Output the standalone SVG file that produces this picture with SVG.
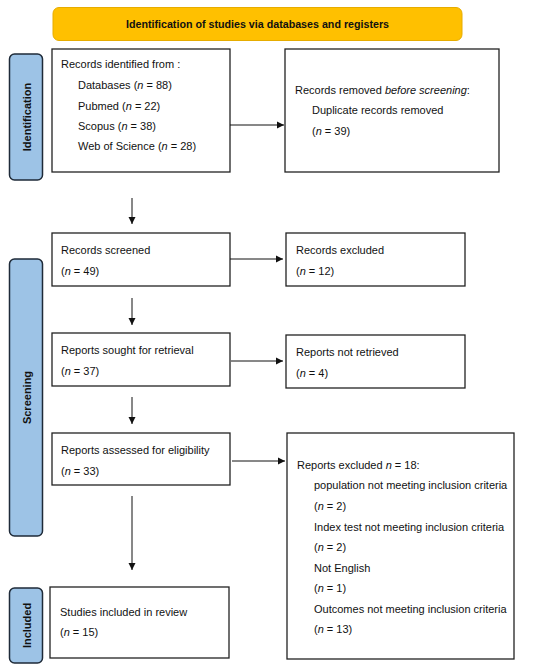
<svg xmlns="http://www.w3.org/2000/svg" width="550" height="670" viewBox="0 0 550 670">
<style>
.box{fill:#fff;stroke:#222;stroke-width:1.3}
.side{fill:#9DC3E6;stroke:#1E2A38;stroke-width:1.5}
.t{font-family:"Liberation Sans",Arial,sans-serif;font-size:11px;fill:#111}
.b{font-family:"Liberation Sans",Arial,sans-serif;font-size:11px;font-weight:bold;fill:#111}
.i{font-style:italic}
.c{stroke:#111;stroke-width:1;fill:none;marker-end:url(#ah)}
</style>
<defs>
<marker id="ah" markerWidth="8" markerHeight="8" refX="7" refY="4" orient="auto" markerUnits="userSpaceOnUse">
<path d="M0,0.5 L7,4 L0,7.5 z" fill="#111"/>
</marker>
</defs>
<rect width="550" height="670" fill="#fff"/>
<g id="banner">
<rect x="53" y="7.5" width="409" height="33" rx="6" fill="#FFC000" stroke="#E6AC00" stroke-width="1"/>
<text class="b" x="257.5" y="28" text-anchor="middle" style="font-size:10.7px">Identification of studies via databases and registers</text>
</g>
<g id="label-identification">
<rect class="side" x="9.5" y="54" width="33" height="126" rx="5"/>
<text class="b" transform="translate(30.5,117) rotate(-90)" text-anchor="middle">Identification</text>
</g>
<g id="label-screening">
<rect class="side" x="9.5" y="259" width="33" height="277" rx="5"/>
<text class="b" transform="translate(30.5,397.5) rotate(-90)" text-anchor="middle">Screening</text>
</g>
<g id="label-included">
<rect class="side" x="9.5" y="588" width="33" height="75" rx="5"/>
<text class="b" transform="translate(30.5,625.5) rotate(-90)" text-anchor="middle">Included</text>
</g>
<g id="records-identified">
<rect class="box" x="52" y="49" width="178" height="123"/>
<text class="t" x="61" y="68">Records identified from :</text>
<text class="t" x="78" y="89">Databases (<tspan class="i">n</tspan> = 88)</text>
<text class="t" x="78" y="110">Pubmed (<tspan class="i">n</tspan> = 22)</text>
<text class="t" x="78" y="130">Scopus (<tspan class="i">n</tspan> = 38)</text>
<text class="t" x="78" y="150">Web of Science (<tspan class="i">n</tspan> = 28)</text>
</g>
<g id="records-removed">
<rect class="box" x="285" y="49" width="214" height="123"/>
<text class="t" x="295" y="94">Records removed <tspan class="i">before screening</tspan>:</text>
<text class="t" x="312" y="114">Duplicate records removed</text>
<text class="t" x="312" y="135">(<tspan class="i">n</tspan> = 39)</text>
</g>
<g id="records-screened">
<rect class="box" x="52" y="233" width="178" height="53"/>
<text class="t" x="61" y="254">Records screened</text>
<text class="t" x="61" y="275">(<tspan class="i">n</tspan> = 49)</text>
</g>
<g id="records-excluded">
<rect class="box" x="286" y="233" width="179" height="53"/>
<text class="t" x="296" y="254">Records excluded</text>
<text class="t" x="296" y="275">(<tspan class="i">n</tspan> = 12)</text>
</g>
<g id="reports-sought">
<rect class="box" x="52" y="333" width="178" height="53"/>
<text class="t" x="61" y="354">Reports sought for retrieval</text>
<text class="t" x="61" y="375">(<tspan class="i">n</tspan> = 37)</text>
</g>
<g id="reports-not-retrieved">
<rect class="box" x="286" y="335" width="179" height="53"/>
<text class="t" x="296" y="356">Reports not retrieved</text>
<text class="t" x="296" y="377">(<tspan class="i">n</tspan> = 4)</text>
</g>
<g id="reports-assessed">
<rect class="box" x="52" y="433" width="178" height="52"/>
<text class="t" x="61" y="454">Reports assessed for eligibility</text>
<text class="t" x="61" y="475">(<tspan class="i">n</tspan> = 33)</text>
</g>
<g id="reports-excluded">
<rect class="box" x="287" y="433" width="227" height="226"/>
<text class="t" x="297" y="469">Reports excluded <tspan class="i">n</tspan> = 18:</text>
<text class="t" x="314" y="489">population not meeting inclusion criteria</text>
<text class="t" x="314" y="510">(<tspan class="i">n</tspan> = 2)</text>
<text class="t" x="314" y="531">Index test not meeting inclusion criteria</text>
<text class="t" x="314" y="551">(<tspan class="i">n</tspan> = 2)</text>
<text class="t" x="314" y="572">Not English</text>
<text class="t" x="314" y="592">(<tspan class="i">n</tspan> = 1)</text>
<text class="t" x="314" y="613">Outcomes not meeting inclusion criteria</text>
<text class="t" x="314" y="633">(<tspan class="i">n</tspan> = 13)</text>
</g>
<g id="studies-included">
<rect class="box" x="50" y="587" width="179" height="71"/>
<text class="t" x="60" y="616">Studies included in review</text>
<text class="t" x="60" y="636">(<tspan class="i">n</tspan> = 15)</text>
</g>
<g id="connectors">
<line class="c" x1="230" y1="125" x2="284" y2="125"/>
<line class="c" x1="132" y1="198" x2="132" y2="224"/>
<line class="c" x1="230" y1="259" x2="283" y2="259"/>
<line class="c" x1="132" y1="298" x2="132" y2="325"/>
<line class="c" x1="231" y1="361" x2="283" y2="361"/>
<line class="c" x1="132" y1="397" x2="132" y2="424"/>
<line class="c" x1="232" y1="461" x2="285" y2="461"/>
<line class="c" x1="132" y1="496" x2="132" y2="570"/>
</g>
</svg>
